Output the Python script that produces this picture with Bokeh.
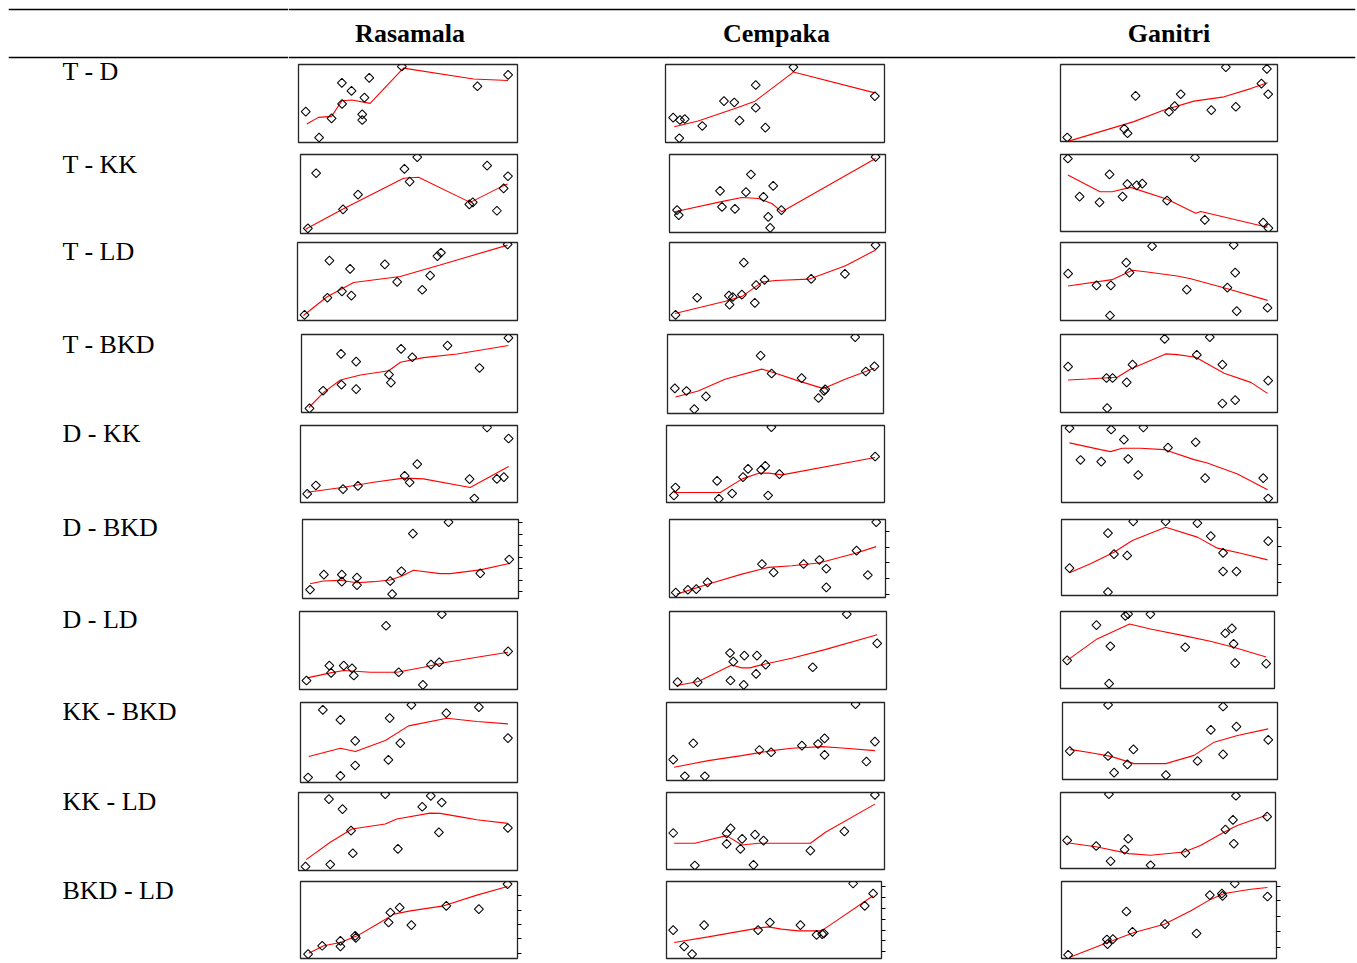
import numpy as np
from bokeh.plotting import figure
from bokeh.layouts import column, row
from bokeh.models import Range1d, Span, Label, LinearAxis, FixedTicker
from bokeh.embed import file_html
from bokeh.resources import INLINE

SPECIES = ["Rasamala", "Cempaka", "Ganitri"]
PAIRS = ["T - D", "T - KK", "T - LD", "T - BKD", "D - KK", "D - BKD",
         "D - LD", "KK - BKD", "KK - LD", "BKD - LD"]

# ---------------- Rasamala ----------------
R_TD_X = [3.3, 9.4, 15.1, 19.8, 24.2, 19.9, 32.3, 30.1, 29.1, 29.1, 47.2, 81.7, 95.7]
R_TD_Y = [39.5, 6.4, 30.9, 76.4, 66.1, 49.4, 82.8, 57.5, 36.1, 28.8, 97.4, 72.1, 86.7]
R_TD_FX = [3.8, 9.1, 15.1, 19.8, 24.4, 32.7, 47.9, 79.9, 95.7]
R_TD_FY = [23.6, 32.2, 33.5, 53.6, 54.5, 50.2, 95.3, 81.5, 79.4]

R_TKK_X = [3.4, 7.2, 19.6, 26.5, 47.9, 50.3, 53.8, 77.8, 79.4, 86.0, 90.5, 93.6, 95.6]
R_TKK_Y = [6.4, 76.3, 30.5, 49.2, 81.8, 65.7, 96.6, 36.9, 39.4, 86.0, 28.8, 57.2, 72.5]
R_TKK_FX = [2.3, 19.6, 47.5, 54.4, 78.2, 93.6, 95.4]
R_TKK_FY = [5.5, 30.9, 69.9, 71.2, 39.4, 60.6, 62.7]

R_TLD_X = [3.2, 13.6, 14.5, 20.2, 23.9, 24.5, 39.7, 45.3, 56.7, 60.3, 63.6, 65.2, 95.5]
R_TLD_Y = [7.2, 29.2, 76.7, 37.3, 66.1, 31.8, 72.0, 49.6, 39.4, 57.6, 82.6, 86.9, 97.5]
R_TLD_FX = [2.7, 13.3, 25.5, 46.7, 64.8, 95.5]
R_TLD_FY = [6.4, 30.1, 48.7, 56.4, 71.2, 96.6]

R_TBKD_X = [3.7, 10.0, 18.3, 18.5, 25.3, 25.3, 40.5, 41.4, 46.1, 51.3, 67.6, 82.4, 95.8]
R_TBKD_Y = [5.2, 27.9, 75.1, 35.6, 65.2, 30.0, 48.5, 38.2, 81.5, 70.8, 85.8, 57.1, 95.7]
R_TBKD_FX = [3.4, 10.3, 18.0, 27.3, 40.4, 45.8, 56.5, 72.0, 95.8]
R_TBKD_FY = [6.4, 25.8, 41.6, 48.1, 53.6, 64.4, 70.4, 75.1, 85.8]

R_DKK_X = [3.1, 7.1, 19.6, 26.5, 48.0, 50.3, 53.8, 77.9, 80.1, 86.0, 90.5, 93.7, 95.9]
R_DKK_Y = [11.3, 22.1, 17.3, 21.6, 34.6, 26.0, 49.8, 30.3, 5.2, 97.4, 30.7, 32.9, 83.1]
R_DKK_FX = [3.1, 19.9, 33.7, 47.5, 56.7, 78.2, 95.9]
R_DKK_FY = [13.4, 19.9, 26.4, 31.6, 30.7, 19.5, 46.8]

R_DBKD_X = [3.5, 9.9, 18.2, 18.2, 25.2, 25.2, 40.6, 41.5, 45.8, 51.1, 67.6, 82.3, 95.7]
R_DBKD_Y = [11.1, 30.2, 30.2, 21.3, 26.4, 17.0, 22.1, 5.5, 34.5, 82.1, 96.6, 31.9, 49.4]
R_DBKD_FX = [3.5, 9.7, 17.4, 25.2, 32.9, 40.6, 46.0, 51.4, 63.7, 68.4, 82.3, 95.7]
R_DBKD_FY = [18.7, 22.1, 23.0, 20.0, 21.3, 23.4, 28.5, 35.7, 31.5, 31.5, 36.2, 44.3]
R_DBKD_TICKS = [8.5, 23.1, 37.8, 52.3, 66.9, 81.6, 96.0]

R_DLD_X = [3.2, 13.7, 14.5, 20.3, 24.1, 24.9, 39.7, 45.5, 56.6, 60.3, 64.1, 65.3, 95.7]
R_DLD_Y = [11.5, 30.6, 21.3, 30.6, 27.2, 17.9, 81.7, 22.1, 6.0, 31.9, 34.9, 96.6, 48.9]
R_DLD_FX = [3.5, 14.2, 20.3, 32.5, 44.7, 56.9, 67.6, 81.4, 95.7]
R_DLD_FY = [14.9, 21.3, 24.3, 22.1, 22.1, 28.5, 34.9, 41.3, 47.7]

R_KKBKD_X = [3.5, 10.3, 18.4, 18.4, 25.2, 25.2, 40.5, 41.1, 46.0, 51.1, 67.2, 82.2, 95.6]
R_KKBKD_Y = [6.3, 90.8, 78.3, 8.3, 52.1, 21.3, 28.3, 80.4, 49.2, 97.1, 86.7, 94.2, 55.4]
R_KKBKD_FX = [3.8, 18.4, 25.3, 39.1, 49.8, 67.5, 81.3, 95.6]
R_KKBKD_FY = [32.5, 42.9, 38.8, 52.5, 70.8, 80.4, 76.3, 73.3]

R_KKLD_X = [3.2, 13.9, 14.5, 20.1, 24.0, 24.8, 39.6, 45.4, 56.5, 60.4, 64.1, 65.4, 95.6]
R_KKLD_Y = [5.1, 91.5, 7.7, 78.7, 51.1, 22.1, 97.9, 27.7, 81.7, 95.7, 48.9, 87.2, 54.5]
R_KKLD_FX = [3.5, 14.5, 24.4, 39.6, 44.9, 60.1, 64.7, 75.3, 81.4, 95.6]
R_KKLD_FY = [14.0, 36.2, 53.2, 59.6, 66.0, 73.6, 73.2, 68.1, 65.1, 60.4]

R_BKDLD_X = [3.5, 10.0, 18.4, 18.4, 25.2, 25.5, 40.6, 41.4, 45.7, 51.1, 67.2, 82.2, 95.4]
R_BKDLD_Y = [5.6, 16.5, 22.9, 15.6, 29.4, 26.8, 46.8, 59.7, 66.2, 43.3, 68.4, 64.1, 96.5]
R_BKDLD_FX = [3.8, 10.7, 18.4, 26.1, 35.3, 43.0, 50.6, 66.0, 81.3, 95.4]
R_BKDLD_FY = [6.9, 16.5, 20.8, 29.4, 44.6, 57.6, 61.9, 68.4, 82.3, 93.5]
R_BKDLD_TICKS = [7.0, 25.6, 44.2, 62.8, 81.4]

# ---------------- Cempaka ----------------
C_TD_X = [3.5, 6.6, 8.8, 6.3, 16.8, 26.7, 31.4, 33.8, 41.2, 41.2, 45.6, 58.4, 95.6]
C_TD_Y = [31.8, 28.8, 30.1, 5.5, 21.2, 53.0, 51.3, 28.0, 44.5, 73.7, 19.1, 96.6, 59.3]
C_TD_FX = [4.0, 14.9, 31.7, 40.9, 58.4, 95.6]
C_TD_FY = [20.3, 27.5, 43.6, 53.0, 90.3, 63.6]

C_TKK_X = [3.5, 4.3, 23.4, 24.3, 30.3, 35.4, 37.7, 43.5, 48.0, 45.7, 46.6, 51.8, 95.4]
C_TKK_Y = [28.6, 22.2, 53.4, 32.9, 30.3, 51.7, 74.4, 45.7, 59.8, 20.1, 6.0, 28.6, 97.0]
C_TKK_FX = [2.5, 23.5, 33.5, 41.2, 47.4, 52.0, 95.4]
C_TKK_FY = [26.5, 39.3, 44.9, 43.6, 37.2, 26.5, 94.9]

C_TLD_X = [2.8, 12.8, 27.5, 27.8, 29.3, 33.5, 34.4, 39.5, 40.1, 44.0, 65.6, 81.2, 95.4]
C_TLD_Y = [7.2, 29.2, 31.8, 20.3, 30.1, 33.1, 74.2, 22.5, 45.3, 52.1, 53.4, 59.7, 96.6]
C_TLD_FX = [2.5, 25.9, 33.6, 42.9, 49.1, 64.5, 81.5, 95.4]
C_TLD_FY = [8.9, 24.6, 30.9, 49.2, 51.3, 53.0, 70.3, 90.3]

C_TBKD_X = [3.4, 8.8, 12.4, 17.8, 43.1, 48.2, 62.1, 69.9, 72.5, 73.0, 86.9, 91.8, 95.8]
C_TBKD_Y = [31.9, 28.5, 5.5, 21.7, 73.2, 50.6, 44.7, 19.6, 28.5, 30.6, 96.6, 53.2, 59.6]
C_TBKD_FX = [3.7, 14.2, 26.6, 43.6, 49.0, 60.6, 72.2, 82.2, 95.8]
C_TBKD_FY = [20.9, 28.5, 43.4, 56.2, 51.9, 41.3, 31.5, 43.4, 57.4]

C_DKK_X = [3.4, 4.1, 23.2, 24.0, 30.1, 35.1, 37.4, 43.4, 45.3, 46.6, 48.1, 51.8, 95.7]
C_DKK_Y = [9.1, 19.5, 28.1, 4.8, 11.7, 32.9, 43.7, 42.4, 47.6, 9.1, 97.8, 36.8, 59.7]
C_DKK_FX = [3.4, 24.7, 34.7, 42.3, 46.9, 53.0, 95.7]
C_DKK_FY = [13.0, 13.0, 30.7, 38.1, 38.1, 35.9, 58.4]

C_DBKD_X = [2.9, 8.5, 12.4, 17.6, 42.8, 48.2, 62.1, 69.4, 72.6, 72.6, 86.6, 91.8, 95.7]
C_DBKD_Y = [6.4, 9.9, 10.7, 19.3, 42.9, 32.2, 42.9, 48.1, 36.9, 12.9, 60.1, 28.8, 96.6]
C_DBKD_FX = [3.4, 18.1, 33.5, 45.9, 56.7, 69.1, 86.1, 95.7]
C_DBKD_FY = [4.3, 17.2, 30.0, 38.6, 40.8, 44.2, 56.7, 65.2]
C_DBKD_TICKS = [4.2, 25.0, 45.5, 64.6, 84.3]

C_DLD_X = [3.7, 13.0, 27.9, 29.4, 28.1, 34.5, 34.2, 40.3, 39.9, 44.3, 66.0, 81.7, 95.7]
C_DLD_Y = [9.4, 9.4, 46.8, 35.7, 11.5, 43.4, 6.0, 43.4, 20.0, 31.9, 28.5, 96.6, 59.1]
C_DLD_FX = [3.4, 13.3, 28.7, 33.3, 37.1, 40.9, 56.3, 71.6, 95.7]
C_DLD_FY = [5.1, 10.2, 31.5, 27.7, 27.7, 30.6, 40.0, 51.1, 70.2]

C_KKBKD_X = [3.1, 8.4, 12.3, 17.6, 42.6, 48.0, 62.1, 69.5, 72.5, 72.5, 86.7, 91.7, 95.6]
C_KKBKD_Y = [26.8, 5.5, 47.7, 5.5, 39.1, 36.2, 44.7, 46.8, 54.0, 32.8, 97.9, 24.3, 49.8]
C_KKBKD_FX = [3.5, 19.2, 34.5, 48.3, 57.5, 71.3, 80.5, 95.6]
C_KKBKD_FY = [17.0, 25.5, 31.9, 38.3, 41.3, 43.4, 41.7, 38.3]

C_KKLD_X = [3.1, 13.0, 27.6, 27.6, 29.4, 33.9, 34.7, 39.9, 40.6, 44.5, 66.0, 81.6, 95.6]
C_KKLD_Y = [47.4, 5.2, 33.2, 47.0, 53.4, 26.7, 39.7, 6.0, 45.3, 37.5, 24.6, 49.6, 97.0]
C_KKLD_FX = [3.5, 13.0, 27.6, 34.5, 42.2, 66.0, 72.9, 95.6]
C_KKLD_FY = [34.1, 34.1, 44.0, 31.9, 34.1, 34.1, 48.3, 84.9]

C_BKDLD_X = [3.1, 8.2, 11.9, 17.5, 42.6, 48.1, 62.3, 69.8, 72.4, 73.2, 86.8, 92.2, 96.1]
C_BKDLD_Y = [36.8, 15.6, 5.6, 43.3, 36.8, 46.8, 43.3, 30.7, 31.6, 32.5, 97.4, 68.4, 84.4]
C_BKDLD_FX = [3.6, 19.4, 42.6, 47.3, 53.5, 61.2, 72.1, 76.7, 96.1]
C_BKDLD_FY = [20.8, 28.1, 39.4, 41.1, 38.1, 35.9, 35.9, 44.6, 81.4]
C_BKDLD_TICKS = [9.1, 22.9, 36.8, 51.1, 65.4, 79.2, 93.5]

# ---------------- Ganitri ----------------
G_TD_X = [3.1, 29.4, 30.9, 34.6, 50.0, 52.6, 55.4, 69.5, 76.2, 80.8, 92.6, 95.1, 95.7]
G_TD_Y = [5.2, 16.3, 10.7, 59.2, 38.6, 45.9, 61.4, 40.8, 96.6, 45.1, 75.1, 94.4, 61.4]
G_TD_FX = [3.8, 33.8, 47.7, 61.5, 75.4, 87.7, 95.4]
G_TD_FY = [0.5, 25.8, 40.8, 52.4, 58.0, 68.7, 76.4]

G_TKK_X = [3.4, 8.8, 18.0, 22.6, 28.6, 30.8, 35.1, 37.7, 49.1, 62.0, 66.5, 93.4, 95.8]
G_TKK_Y = [94.8, 45.3, 37.9, 74.1, 45.3, 61.6, 59.9, 62.1, 40.1, 96.1, 15.1, 11.6, 4.3]
G_TKK_FX = [3.4, 18.2, 23.8, 32.3, 49.2, 62.3, 64.6, 95.4]
G_TKK_FY = [73.3, 51.7, 51.7, 57.3, 41.8, 23.7, 25.9, 5.6]

G_TLD_X = [3.5, 16.6, 23.2, 22.8, 30.3, 31.8, 42.2, 58.2, 76.9, 79.8, 80.5, 81.2, 95.4]
G_TLD_Y = [60.1, 45.1, 45.1, 6.4, 74.2, 61.4, 95.3, 39.5, 42.1, 97.0, 61.4, 12.0, 16.3]
G_TLD_FX = [3.5, 23.8, 33.1, 40.0, 53.8, 60.0, 76.9, 95.4]
G_TLD_FY = [44.2, 52.4, 64.4, 62.2, 57.1, 53.6, 40.8, 25.8]

G_TBKD_X = [3.5, 21.2, 24.0, 21.5, 30.5, 33.2, 48.0, 62.8, 68.8, 74.6, 74.6, 80.5, 95.7]
G_TBKD_Y = [58.8, 44.2, 44.2, 5.6, 38.6, 61.4, 94.4, 73.8, 96.6, 61.4, 11.6, 15.9, 40.8]
G_TBKD_FX = [3.5, 12.3, 26.2, 32.3, 48.5, 53.8, 62.3, 75.4, 87.7, 95.4]
G_TBKD_FY = [41.6, 42.9, 45.1, 55.8, 75.1, 74.2, 70.8, 50.2, 38.6, 24.5]

G_DKK_X = [3.7, 8.8, 18.4, 23.0, 28.9, 30.9, 35.5, 37.9, 49.3, 62.1, 66.5, 93.4, 95.7]
G_DKK_Y = [96.5, 55.2, 53.0, 94.8, 81.7, 56.5, 35.7, 97.4, 71.3, 78.3, 31.7, 31.7, 5.2]
G_DKK_FX = [3.7, 18.1, 22.7, 28.1, 36.6, 47.4, 61.4, 67.5, 81.5, 95.4]
G_DKK_FY = [77.4, 68.7, 66.1, 70.4, 70.4, 68.7, 55.7, 51.3, 37.0, 16.5]

G_DBKD_X = [3.7, 21.5, 21.5, 24.3, 30.4, 33.2, 48.2, 62.9, 69.1, 74.8, 74.8, 81.0, 95.7]
G_DBKD_Y = [36.0, 82.0, 4.4, 54.4, 52.6, 97.4, 97.4, 95.2, 78.1, 56.1, 31.6, 31.6, 71.5]
G_DBKD_FX = [3.7, 13.4, 24.3, 32.8, 48.2, 62.9, 72.2, 83.0, 95.4]
G_DBKD_FY = [29.8, 41.7, 57.0, 72.4, 89.9, 76.8, 62.3, 55.7, 46.9]
G_DBKD_TICKS = [17.5, 41.2, 64.5, 89.9]

G_DLD_X = [3.1, 16.8, 22.7, 23.3, 30.3, 31.6, 42.0, 58.3, 77.0, 80.1, 80.9, 81.6, 96.1]
G_DLD_Y = [36.5, 82.4, 6.4, 54.9, 94.4, 96.6, 96.6, 53.6, 71.7, 78.1, 57.9, 33.0, 32.2]
G_DLD_FX = [3.1, 17.1, 32.3, 42.0, 57.5, 70.0, 80.9, 96.1]
G_DLD_FY = [36.5, 64.4, 83.7, 77.3, 68.7, 61.4, 53.6, 40.8]

G_KKBKD_X = [3.4, 21.2, 21.2, 24.0, 30.2, 33.0, 48.1, 62.8, 69.0, 74.7, 74.7, 80.9, 95.7]
G_KKBKD_Y = [36.9, 97.0, 30.5, 9.0, 19.7, 39.1, 5.6, 24.0, 64.4, 94.8, 32.6, 68.7, 51.5]
G_KKBKD_FX = [3.4, 13.2, 22.5, 33.3, 48.1, 61.2, 70.5, 81.4, 95.7]
G_KKBKD_FY = [39.1, 34.8, 30.0, 20.6, 20.6, 31.3, 48.5, 57.1, 65.7]

G_KKLD_X = [3.1, 16.6, 22.5, 23.3, 29.8, 31.5, 41.9, 58.1, 76.7, 80.2, 80.6, 81.6, 96.1]
G_KKLD_Y = [37.0, 29.6, 97.8, 9.6, 24.8, 39.1, 4.3, 20.4, 51.3, 63.9, 32.6, 95.7, 68.3]
G_KKLD_FX = [3.1, 17.1, 31.8, 41.9, 57.4, 65.1, 76.0, 82.2, 96.1]
G_KKLD_FY = [33.9, 28.3, 19.6, 17.4, 21.7, 30.4, 47.8, 56.5, 70.4]

G_BKDLD_X = [3.1, 21.1, 21.4, 23.9, 30.2, 33.0, 48.1, 62.8, 69.0, 74.6, 74.9, 80.6, 95.8]
G_BKDLD_Y = [4.8, 24.7, 18.6, 25.1, 61.0, 34.6, 44.6, 32.5, 82.3, 84.4, 81.4, 97.4, 80.5]
G_BKDLD_FX = [3.6, 21.4, 33.8, 47.8, 60.2, 69.5, 75.7, 88.1, 95.8]
G_BKDLD_FY = [1.3, 20.8, 33.8, 44.6, 61.9, 77.1, 84.4, 90.0, 92.2]
G_BKDLD_TICKS = [14.3, 34.6, 54.1, 74.9, 93.5]


def pack(x, y, fx, fy, ticks=None):
    return dict(x=x, y=y, fx=fx, fy=fy, ticks=ticks)


PANELS = {
    "Rasamala": [
        pack(R_TD_X, R_TD_Y, R_TD_FX, R_TD_FY),
        pack(R_TKK_X, R_TKK_Y, R_TKK_FX, R_TKK_FY),
        pack(R_TLD_X, R_TLD_Y, R_TLD_FX, R_TLD_FY),
        pack(R_TBKD_X, R_TBKD_Y, R_TBKD_FX, R_TBKD_FY),
        pack(R_DKK_X, R_DKK_Y, R_DKK_FX, R_DKK_FY),
        pack(R_DBKD_X, R_DBKD_Y, R_DBKD_FX, R_DBKD_FY, R_DBKD_TICKS),
        pack(R_DLD_X, R_DLD_Y, R_DLD_FX, R_DLD_FY),
        pack(R_KKBKD_X, R_KKBKD_Y, R_KKBKD_FX, R_KKBKD_FY),
        pack(R_KKLD_X, R_KKLD_Y, R_KKLD_FX, R_KKLD_FY),
        pack(R_BKDLD_X, R_BKDLD_Y, R_BKDLD_FX, R_BKDLD_FY, R_BKDLD_TICKS),
    ],
    "Cempaka": [
        pack(C_TD_X, C_TD_Y, C_TD_FX, C_TD_FY),
        pack(C_TKK_X, C_TKK_Y, C_TKK_FX, C_TKK_FY),
        pack(C_TLD_X, C_TLD_Y, C_TLD_FX, C_TLD_FY),
        pack(C_TBKD_X, C_TBKD_Y, C_TBKD_FX, C_TBKD_FY),
        pack(C_DKK_X, C_DKK_Y, C_DKK_FX, C_DKK_FY),
        pack(C_DBKD_X, C_DBKD_Y, C_DBKD_FX, C_DBKD_FY, C_DBKD_TICKS),
        pack(C_DLD_X, C_DLD_Y, C_DLD_FX, C_DLD_FY),
        pack(C_KKBKD_X, C_KKBKD_Y, C_KKBKD_FX, C_KKBKD_FY),
        pack(C_KKLD_X, C_KKLD_Y, C_KKLD_FX, C_KKLD_FY),
        pack(C_BKDLD_X, C_BKDLD_Y, C_BKDLD_FX, C_BKDLD_FY, C_BKDLD_TICKS),
    ],
    "Ganitri": [
        pack(G_TD_X, G_TD_Y, G_TD_FX, G_TD_FY),
        pack(G_TKK_X, G_TKK_Y, G_TKK_FX, G_TKK_FY),
        pack(G_TLD_X, G_TLD_Y, G_TLD_FX, G_TLD_FY),
        pack(G_TBKD_X, G_TBKD_Y, G_TBKD_FX, G_TBKD_FY),
        pack(G_DKK_X, G_DKK_Y, G_DKK_FX, G_DKK_FY),
        pack(G_DBKD_X, G_DBKD_Y, G_DBKD_FX, G_DBKD_FY, G_DBKD_TICKS),
        pack(G_DLD_X, G_DLD_Y, G_DLD_FX, G_DLD_FY),
        pack(G_KKBKD_X, G_KKBKD_Y, G_KKBKD_FX, G_KKBKD_FY),
        pack(G_KKLD_X, G_KKLD_Y, G_KKLD_FX, G_KKLD_FY),
        pack(G_BKDLD_X, G_BKDLD_Y, G_BKDLD_FX, G_BKDLD_FY, G_BKDLD_TICKS),
    ],
}

# ---------------- layout (page pixels) ----------------
BOX = {  # (left, right, top, bottom) of each panel frame
    "Rasamala": [(298, 517, 64, 142), (300, 517, 154, 233), (297, 517, 241, 319),
                 (301, 517, 334, 412), (300, 517, 422, 499), (302, 518, 517, 596),
                 (299, 517, 609, 687), (300, 517, 699, 779), (298, 517, 790, 868),
                 (300, 517, 879, 956)],
    "Cempaka": [(665, 884, 61, 139), (669, 885, 153, 231), (669, 885, 241, 319),
                (667, 883, 332, 411), (666, 884, 422, 499), (669, 885, 515, 593),
                (669, 886, 609, 687), (666, 884, 700, 778), (666, 884, 792, 869),
                (666, 881, 881, 958)],
    "Ganitri": [(1060, 1277, 61, 138), (1060, 1277, 153, 230), (1060, 1277, 242, 320),
                (1060, 1277, 332, 410), (1061, 1277, 425, 502), (1061, 1277, 519, 595),
                (1060, 1274, 611, 688), (1062, 1277, 702, 779), (1060, 1275, 792, 868),
                (1061, 1276, 881, 958)],
}
LABEL_W = 288
COL_SPAN = {"Rasamala": (288, 600), "Cempaka": (600, 990), "Ganitri": (990, 1357)}
BANDS = [0, 59, 147, 236, 326, 417, 509, 602, 694, 785, 874, 962]
LABEL_MID = [71, 164, 251, 344, 433, 527, 619, 711, 801, 890]   # vertical centre of row labels
HEADER_X = {"Rasamala": 409.5, "Cempaka": 776, "Ganitri": 1168.5}
HEADER_MID = 33
RULES = [(9, 1.6), (57, 1.5)]
RULE_LEFT, RULE_RIGHT = 8, 1355
TOTAL_H = BANDS[-1]

SERIF = "Liberation Serif"


def blank(w, h, xr, yr, ml=0, mr=0):
    p = figure(frame_width=w, frame_height=h, x_range=xr, y_range=yr,
               x_axis_location=None, y_axis_location=None, toolbar_location=None,
               output_backend="svg", title=None,
               min_border_left=ml, min_border_right=mr, min_border_top=0, min_border_bottom=0)
    p.grid.grid_line_color = None
    p.outline_line_color = None
    p.background_fill_color = "white"
    p.border_fill_color = "white"
    return p


# left strip: start of the table rules and the row labels
left = blank(LABEL_W - RULE_LEFT, TOTAL_H, Range1d(RULE_LEFT, LABEL_W), Range1d(TOTAL_H, 0), ml=RULE_LEFT)
for ry, rw in RULES:
    left.add_layout(Span(location=ry, dimension="width", line_color="black", line_width=rw))
for i, pair in enumerate(PAIRS):
    left.add_layout(Label(x=62, y=LABEL_MID[i], text=pair, text_font=SERIF,
                          text_font_size="26px", text_align="left", text_baseline="middle",
                          text_color="black"))

# header on the right: rest of the rules and species names
right_w = COL_SPAN["Ganitri"][1] - LABEL_W
hh = BANDS[1] - BANDS[0]
header = blank(RULE_RIGHT - LABEL_W, hh, Range1d(LABEL_W, RULE_RIGHT), Range1d(hh, 0),
               mr=COL_SPAN["Ganitri"][1] - RULE_RIGHT)
for ry, rw in RULES:
    header.add_layout(Span(location=ry, dimension="width", line_color="black", line_width=rw))
for sp in SPECIES:
    header.add_layout(Label(x=HEADER_X[sp], y=HEADER_MID, text=sp, text_font=SERIF,
                            text_font_size="26px", text_font_style="bold", text_align="center",
                            text_baseline="middle", text_color="black"))

rows = [header]
for i, pair in enumerate(PAIRS):
    top, bot = BANDS[i + 1], BANDS[i + 2]
    bh = bot - top
    kids = []
    for sp in SPECIES:
        l, r, t, b = BOX[sp][i]
        c0, c1 = COL_SPAN[sp]
        fw = r - l
        ml = l - c0
        mr = (c1 - c0) - ml - fw
        fh = b - t
        mt = t - top
        mb = bh - mt - fh
        d = PANELS[sp][i]
        p = figure(frame_width=fw, frame_height=fh, x_range=Range1d(0, 100), y_range=Range1d(0, 100),
                   x_axis_location=None, y_axis_location=None, toolbar_location=None,
                   output_backend="svg", title=None,
                   min_border_left=ml, min_border_right=mr, min_border_top=mt, min_border_bottom=mb)
        p.grid.grid_line_color = None
        p.outline_line_color = "#262626"
        p.outline_line_width = 1.3
        p.background_fill_color = "white"
        p.border_fill_color = "white"
        p.line(d["fx"], d["fy"], line_color="red", line_width=1.1)
        p.scatter(d["x"], d["y"], marker="square", angle=np.pi / 4, size=6.3,
                  fill_color=None, line_color="black", line_width=1.05)
        if d["ticks"] is not None:
            ax = LinearAxis(ticker=FixedTicker(ticks=d["ticks"]), axis_line_color=None,
                            major_tick_in=0, major_tick_out=4, major_tick_line_color="black",
                            major_tick_line_width=1, minor_tick_line_color=None,
                            major_label_text_color=None, major_label_text_font_size="1px",
                            major_label_standoff=0)
            p.add_layout(ax, "right")
        kids.append(p)
    rows.append(row(*kids))

layout = row(left, column(*rows))
open("out.html", "w").write(file_html(layout, INLINE))
